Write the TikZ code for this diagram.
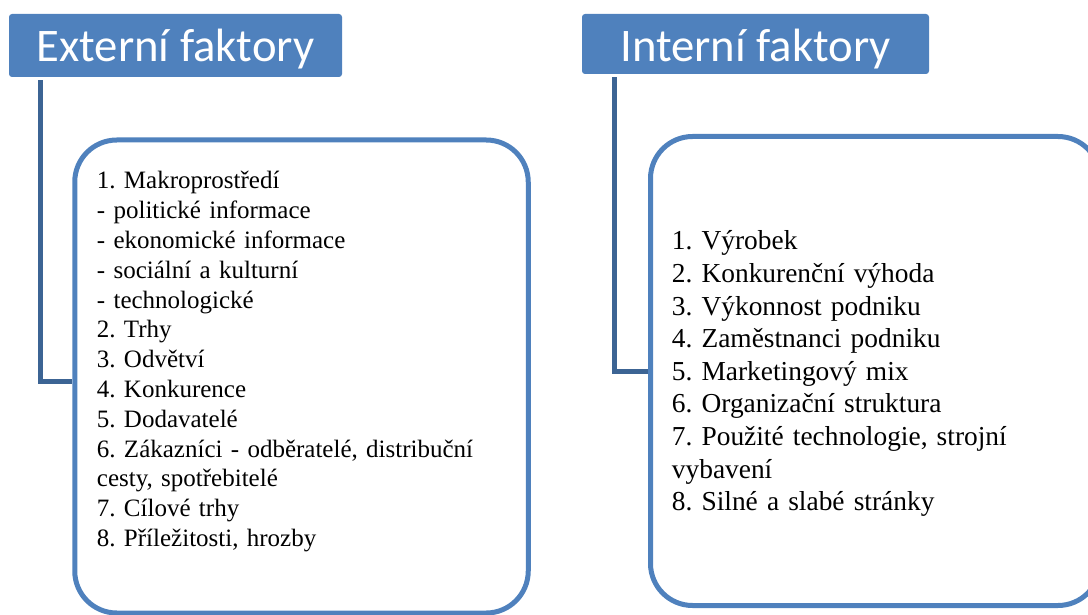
\documentclass[tikz,border=0pt]{standalone}
\usepackage{fontspec}
\setmainfont{Liberation Serif}
\newfontfamily\headfont{Carlito}
\frenchspacing
\definecolor{hdrblue}{HTML}{4F81BD}
\definecolor{boxblue}{HTML}{4F81BD}
\definecolor{connblue}{HTML}{3C6494}
\tikzset{
  header/.style={fill=hdrblue, draw=none, rounded corners=3pt, inner sep=0pt},
  headtext/.style={text=white, font={\headfont\fontsize{46.7}{56}\selectfont}, anchor=base, inner sep=0pt},
  listbox/.style={draw=boxblue, line width=5pt, rounded corners=42pt, inner sep=0pt},
  conn/.style={draw=connblue, line width=5pt},
  listtext/.style={anchor=base west, inner sep=0pt, align=left, text width=440pt}
}
\begin{document}
\begin{tikzpicture}[x=1pt,y=-1pt]
\useasboundingbox (0,0) rectangle (1088,615);
\clip (0,0) rectangle (1088,615);
% headers
\node[header, minimum width=333pt, minimum height=63pt] (ext) at (175.5,45.5) {};
\node[headtext] (extlabel) at (175.5,62) {Externí faktory};
\node[header, minimum width=347pt, minimum height=60pt] (int) at (755.5,44) {};
\node[headtext] (intlabel) at (755.5,62) {Interní faktory};
% boxes
\node[listbox, minimum width=453.5pt, minimum height=473pt] (extbox) at (301.5,376.5) {};
\node[listbox, minimum width=449.5pt, minimum height=469pt] (intbox) at (875.25,371) {};
% connectors
\coordinate (extjoin) at ([xshift=31.5pt]ext.south west);
\coordinate (intjoin) at ([xshift=32.5pt]int.south west);
\draw[conn] ([yshift=-3pt]extjoin) |- ([yshift=-4.5pt]extbox.west);
\draw[conn] ([yshift=-3pt]intjoin) |- (intbox.west);
% texts
\node[listtext, font={\fontsize{25}{29.8}\selectfont}] (extlist) at (96.7,189) {%
1. Makroprostředí\\
- politické informace\\
- ekonomické informace\\
- sociální a kulturní\\
- technologické\\
2. Trhy\\
3. Odvětví\\
4. Konkurence\\
5. Dodavatelé\\
6. Zákazníci - odběratelé, distribuční\\
cesty, spotřebitelé\\
7. Cílové trhy\\
8. Příležitosti, hrozby};
\node[listtext, font={\fontsize{27.4}{32.6}\selectfont}] (intlist) at (671.7,250) {%
1. Výrobek\\
2. Konkurenční výhoda\\
3. Výkonnost podniku\\
4. Zaměstnanci podniku\\
5. Marketingový mix\\
6. Organizační struktura\\
7. Použité technologie, strojní\\
vybavení\\
8. Silné a slabé stránky};
\end{tikzpicture}
\end{document}
